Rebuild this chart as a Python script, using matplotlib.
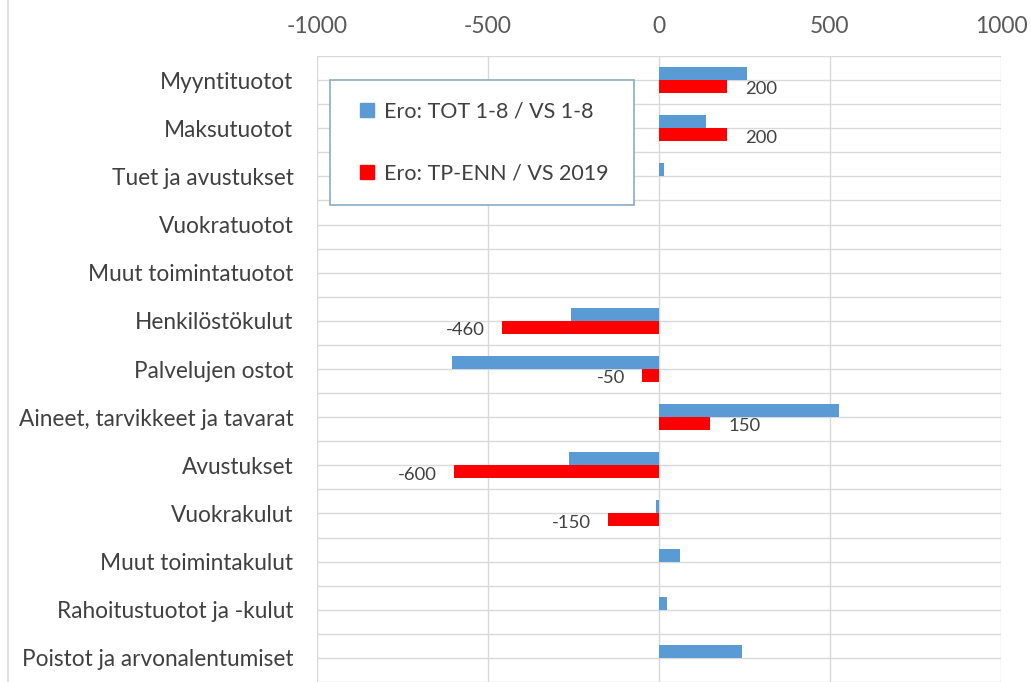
import matplotlib
matplotlib.use("Agg")
import matplotlib.pyplot as plt
import numpy as np
from matplotlib.lines import Line2D

categories = [
    "Myyntituotot", "Maksutuotot", "Tuet ja avustukset", "Vuokratuotot",
    "Muut toimintatuotot", "Henkilöstökulut", "Palvelujen ostot",
    "Aineet, tarvikkeet ja tavarat", "Avustukset", "Vuokrakulut",
    "Muut toimintakulut", "Rahoitustuotot ja -kulut", "Poistot ja arvonalentumiset",
]
series_blue = [257, 138, 16, 0, 0, -258, -604, 526, -263, -10, 62, 23, 243]
series_red = [200, 200, 0, 0, 0, -460, -50, 150, -600, -150, 0, 0, 0]
label_blue = "Ero: TOT 1-8 / VS 1-8"
label_red = "Ero: TP-ENN / VS 2019"
xticks = [-1000, -500, 0, 500, 1000]

BLUE = "#5B9BD5"
RED = "#FF0000"
GRID = "#D9D9D9"
TXT = "#404040"

plt.rcParams['font.family'] = ['Lato', 'DejaVu Sans']

fig = plt.figure(figsize=(10.31, 6.82), dpi=100)
ax = fig.add_axes([317/1031, 0.0, (1001-317)/1031, (682-56)/682])

y = np.arange(len(categories))
h = 0.27
ax.barh(y - h/2, series_blue, height=h, color=BLUE, label=label_blue, zorder=3)
ax.barh(y + h/2, series_red, height=h, color=RED, label=label_red, zorder=3)

for yi, v in zip(y, series_red):
    if v == 0:
        continue
    if v > 0:
        ax.annotate(str(v), (v, yi + h/2), xytext=(13, -2), textcoords="offset points",
                    ha="left", va="center", fontsize=13.3, color=TXT)
    else:
        ax.annotate(str(v), (v, yi + h/2), xytext=(-12, -2), textcoords="offset points",
                    ha="right", va="center", fontsize=13.3, color=TXT)

ax.set_xlim(-1000, 1000)
ax.set_ylim(len(categories) - 0.5, -0.5)
ax.set_xticks(xticks)
ax.set_xticklabels([str(t) for t in xticks])
ax.xaxis.tick_top()
ax.set_yticks(y)
ax.set_yticklabels(categories)
ax.set_yticks(np.arange(len(categories) + 1) - 0.5, minor=True)
ax.tick_params(axis="x", which="both", length=0, pad=14, labelsize=16.5, labelcolor="#595959")
ax.tick_params(axis="y", which="both", length=0, pad=17, labelsize=16.3, labelcolor=TXT)

ax.grid(axis="x", color=GRID, linewidth=1, zorder=0)
ax.grid(axis="y", which="both", color=GRID, linewidth=1, zorder=0)
for s in ax.spines.values():
    s.set_visible(False)

handles = [
    Line2D([], [], marker="s", linestyle="", color=BLUE, markersize=10),
    Line2D([], [], marker="s", linestyle="", color=RED, markersize=10),
]
leg = ax.legend(handles, [label_blue, label_red],
                loc="upper left", bbox_to_anchor=(0.019, 0.961, 0.444, 0.0), mode="expand",
                fontsize=15.5, frameon=True, fancybox=False, framealpha=1,
                edgecolor="#8EAAC4", labelspacing=1.95, borderpad=1.0,
                handlelength=1.4, handletextpad=0.1,
                borderaxespad=0)
leg.get_frame().set_linewidth(1.2)
for t in leg.get_texts():
    t.set_color(TXT)

fig.add_artist(Line2D([8/1031, 8/1031], [0, 1], color=GRID, linewidth=1.2, transform=fig.transFigure))

fig.savefig("out.png", dpi=100, facecolor="white")
